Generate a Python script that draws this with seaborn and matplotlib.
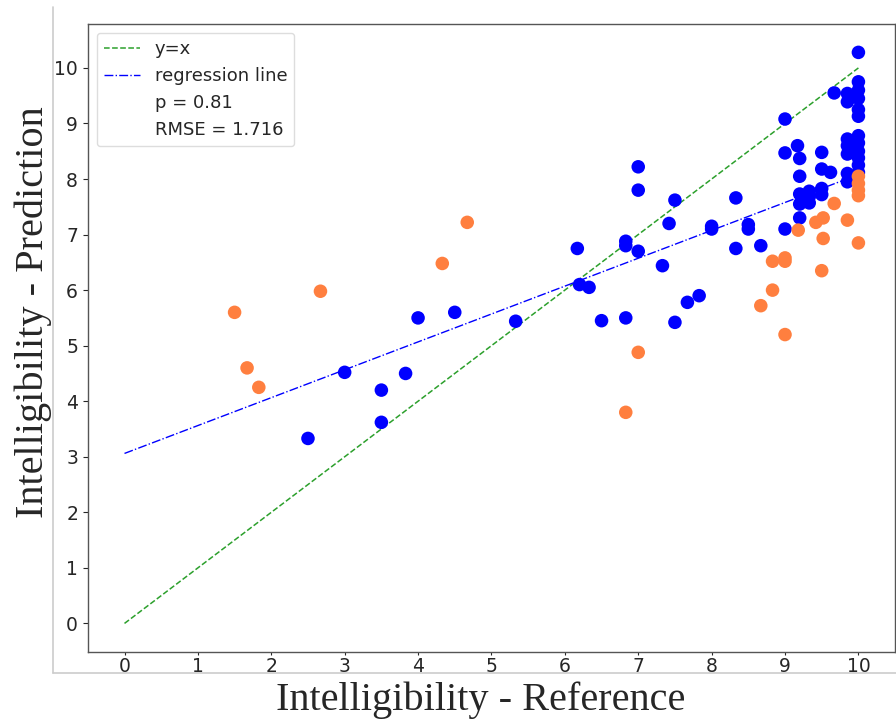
import numpy as np
import pandas as pd
import matplotlib
matplotlib.use('Agg')
import matplotlib.pyplot as plt
from matplotlib.lines import Line2D
import seaborn as sns

# Blue group (reference, prediction)
blue_ref = [2.5, 3.0, 3.5, 3.5, 3.83, 4.0, 4.5, 5.33,
            6.17, 6.2, 6.33, 6.5, 6.83, 6.83, 6.83,
            7.0, 7.0, 7.0, 7.33, 7.42, 7.5, 7.5, 7.67, 7.83,
            8.0, 8.0, 8.33, 8.33, 8.5, 8.5, 8.67,
            9.0, 9.0, 9.0, 9.17, 9.2, 9.2, 9.2, 9.2, 9.2,
            9.33, 9.33, 9.33, 9.5, 9.5, 9.5, 9.5, 9.62,
            9.67, 9.85, 9.85, 9.85, 9.85, 9.85, 9.85, 9.85,
            10, 10, 10, 10, 10, 10, 10, 10, 10, 10, 10, 10]
blue_pred = [3.33, 4.52, 4.2, 3.62, 4.5, 5.5, 5.6, 5.44,
             6.75, 6.1, 6.05, 5.45, 6.88, 6.8, 5.5,
             8.22, 7.8, 6.7, 6.44, 7.2, 7.62, 5.42, 5.78, 5.9,
             7.15, 7.1, 7.66, 6.75, 7.18, 7.1, 6.8,
             9.08, 8.47, 7.1, 8.6, 8.37, 8.05, 7.73, 7.55, 7.3,
             7.78, 7.68, 7.57, 8.48, 8.18, 7.83, 7.72, 8.12,
             9.55, 9.54, 9.39, 8.72, 8.6, 8.45, 8.1, 7.95,
             10.28, 9.75, 9.6, 9.45, 9.25, 9.13, 8.78, 8.65, 8.5, 8.38, 8.25, 8.12]

# Orange group
orange_ref = [1.5, 1.67, 1.83, 2.67, 4.33, 4.67, 6.83, 7.0,
              8.67, 8.83, 8.83, 9.0, 9.0, 9.0, 9.18, 9.42, 9.52, 9.52,
              9.5, 9.67, 9.85, 10, 10, 10, 10, 10]
orange_pred = [5.6, 4.6, 4.25, 5.98, 6.48, 7.22, 3.8, 4.88,
               5.72, 6.0, 6.52, 6.58, 6.52, 5.2, 7.08, 7.22, 7.3, 6.93,
               6.35, 7.56, 7.26, 8.05, 7.92, 7.8, 7.7, 6.85]

# Reference lines
line_x = [0, 10]
identity_y = [0, 10]
regression_y = [3.06, 8.08]

legend_stats = ['p = 0.81', 'RMSE = 1.716']

sns.set_style('ticks')
plt.rcParams['font.family'] = ['DejaVu Sans']

df = pd.DataFrame({
    'ref': blue_ref + orange_ref,
    'pred': blue_pred + orange_pred,
    'group': ['blue'] * len(blue_ref) + ['orange'] * len(orange_ref),
})

fig = plt.figure(figsize=(8.96, 7.22), dpi=100)
ax = fig.add_axes([0.098, 0.097, 0.901, 0.870])

sns.scatterplot(data=df, x='ref', y='pred', hue='group',
                palette={'blue': '#0000ff', 'orange': '#ff7f3f'},
                s=95, edgecolor='none', legend=False, ax=ax, zorder=3)

ax.plot(line_x, identity_y, color='#2ca02c', ls='--', lw=1.1, label='y=x')
ax.plot(line_x, regression_y, color='#0000ff', ls='-.', lw=1.0,
        label='regression line')

# Stats entries without handles
handles, labels = ax.get_legend_handles_labels()
for txt in legend_stats:
    handles.append(Line2D([], [], ls='none', marker=None))
    labels.append(txt)
ax.legend(handles, labels, loc='upper left', fontsize=13,
          frameon=True, framealpha=1, edgecolor='#dddddd')

ax.set_xticks(range(0, 11))
ax.set_yticks(range(0, 11))
ax.tick_params(labelsize=13.5)
ax.tick_params(axis='x', length=2, pad=1.5)
ax.set_xlabel('')
ax.set_ylabel('')
for sp in ax.spines.values():
    sp.set_color('#555555')
    sp.set_linewidth(1.0)

# Big serif axis titles
fig.text(0.537, 0.016, 'Intelligibility - Reference', ha='center',
         va='baseline', fontsize=29, family='Liberation Serif')
fig.text(0.037, 0.568, 'Intelligibility - Prediction', ha='center',
         va='center', rotation=90, fontsize=29, family='Liberation Serif')

# Outer frame lines
fig.add_artist(Line2D([0.059, 0.059], [0.068, 0.99], color='#cccccc', lw=1.2))
fig.add_artist(Line2D([0.059, 1.0], [0.068, 0.068], color='#cccccc', lw=1.2))

fig.savefig('out.png', dpi=100)
